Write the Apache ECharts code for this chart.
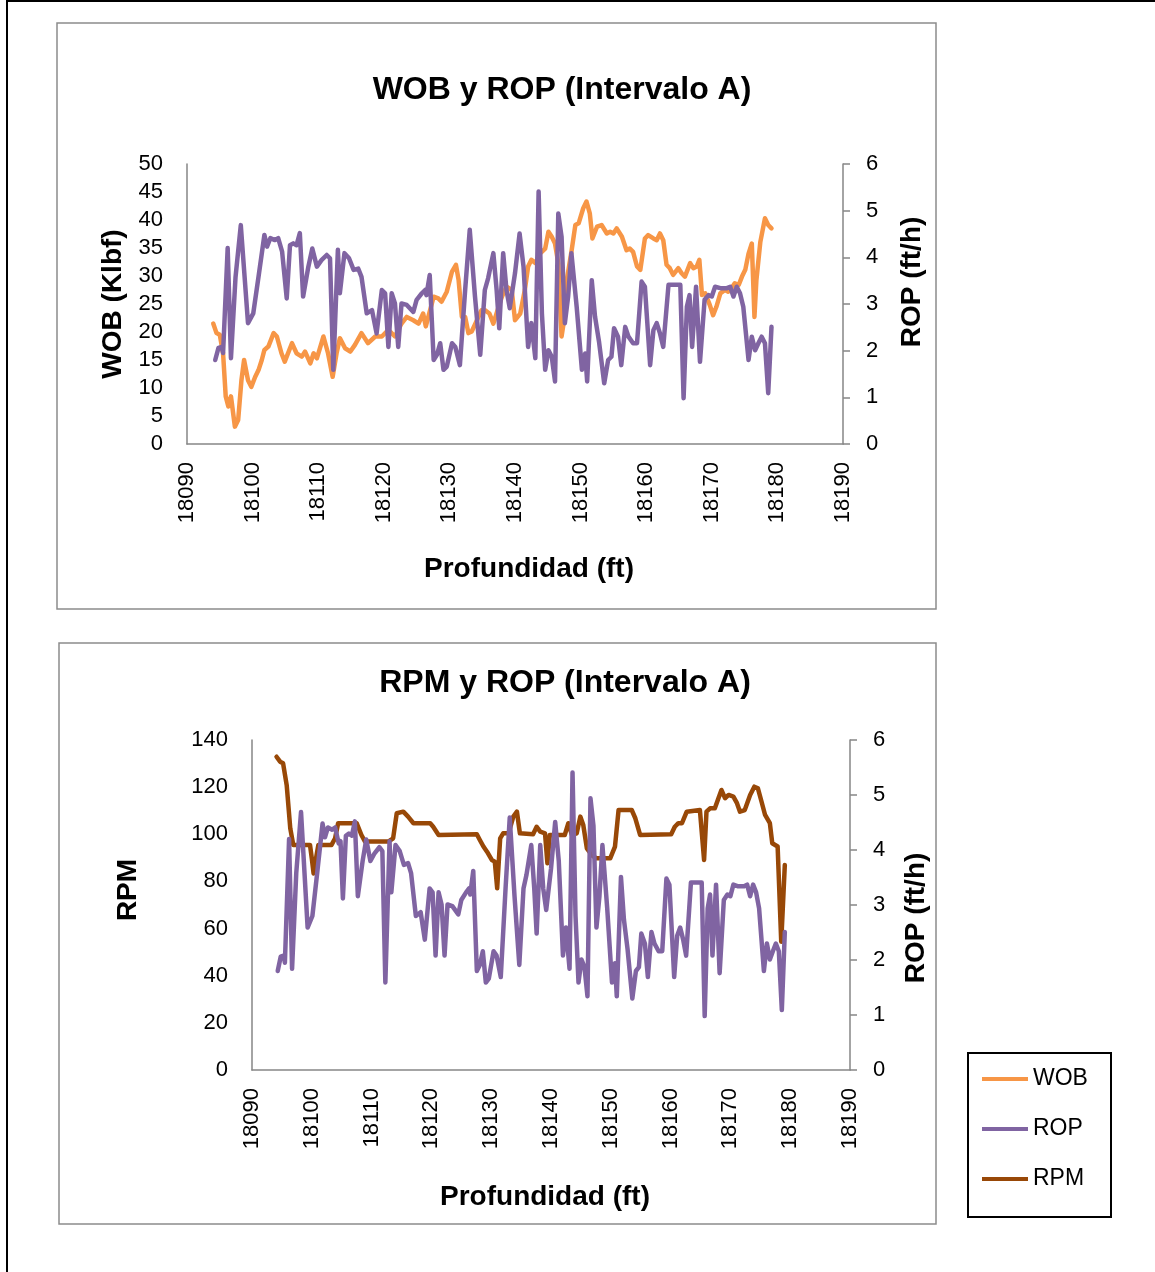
<!DOCTYPE html>
<html>
<head>
<meta charset="utf-8">
<script src="https://cdn.jsdelivr.net/npm/echarts@6/dist/echarts.min.js"></script>
<style>
  html, body { margin: 0; padding: 0; background: #ffffff; }
  #chart { width: 1155px; height: 1272px; }
</style>
</head>
<body>
<div id="chart"></div>
<script>
// Rate of penetration (ft/h) versus depth (ft) — shared by both panels
const ropDepth = [
  18094.3, 18094.8, 18095.3, 18095.5, 18096.2, 18096.7, 18097.4, 18098.2, 18099.3, 18100.1,
  18100.9, 18101.8, 18102.2, 18102.7, 18103.4, 18103.9, 18104.5, 18104.8, 18105.2, 18105.7,
  18106.2, 18106.7, 18107.2, 18107.7, 18108.5, 18109.1, 18109.8, 18110.5, 18111.3, 18111.8,
  18112.3, 18113.0, 18113.3, 18114.0, 18114.7, 18115.4, 18116.1, 18116.6, 18117.4, 18118.2,
  18118.9, 18119.7, 18120.2, 18120.7, 18121.2, 18121.7, 18122.2, 18122.7, 18123.5, 18124.5,
  18125.0, 18125.8, 18126.3, 18126.5, 18127.0, 18127.6, 18128.1, 18128.6, 18129.1, 18129.6,
  18130.4, 18130.9, 18131.6, 18132.4, 18133.1, 18133.9, 18134.7, 18135.4, 18135.9, 18136.7,
  18137.2, 18137.6, 18138.2, 18138.7, 18139.2, 18140.0, 18140.7, 18141.3, 18142.0, 18142.5,
  18143.1, 18143.6, 18144.1, 18144.6, 18145.1, 18145.6, 18146.1, 18146.6, 18147.1, 18147.6,
  18148.1, 18148.6, 18149.4, 18150.2, 18150.7, 18151.0, 18151.7, 18152.2, 18152.8, 18153.6,
  18154.2, 18154.7, 18155.1, 18155.7, 18156.2, 18156.8, 18157.3, 18158.0, 18158.6, 18159.3,
  18159.8, 18160.6, 18161.1, 18161.6, 18162.1, 18162.6, 18163.4, 18164.7, 18165.2, 18165.7,
  18166.2, 18166.6, 18167.0, 18167.6, 18168.2, 18168.9, 18169.5, 18170.0, 18170.5, 18171.3,
  18172.3, 18172.8, 18173.3, 18173.8, 18174.3, 18174.8, 18175.6, 18176.1, 18176.6, 18177.1,
  18177.6, 18178.1, 18178.6, 18179.1
];
const ropValues = [
  1.80, 2.06, 2.08, 1.95, 4.20, 1.84, 3.58, 4.69, 2.59, 2.80,
  3.58, 4.48, 4.23, 4.41, 4.37, 4.41, 4.12, 4.16, 3.12, 4.26,
  4.30, 4.26, 4.52, 3.16, 3.80, 4.19, 3.80, 3.94, 4.05, 3.98,
  1.59, 4.16, 3.23, 4.09, 3.98, 3.73, 3.76, 3.58, 2.80, 2.87,
  2.37, 3.30, 3.23, 2.08, 3.23, 3.01, 2.08, 3.01, 2.98, 2.83,
  3.09, 3.23, 3.30, 3.19, 3.62, 1.80, 1.91, 2.16, 1.59, 1.66,
  2.16, 2.08, 1.69, 3.30, 4.59, 3.16, 1.91, 3.30, 3.55, 4.09,
  3.30, 2.48, 4.09, 3.30, 2.91, 3.66, 4.51, 3.80, 2.08, 2.59,
  1.84, 5.41, 2.80, 1.59, 2.01, 1.87, 1.34, 4.94, 4.44, 2.59,
  3.16, 4.09, 2.94, 1.59, 1.94, 1.34, 3.51, 2.73, 2.20, 1.30,
  1.80, 1.87, 2.48, 2.30, 1.69, 2.51, 2.30, 2.16, 2.16, 3.48,
  3.37, 1.69, 2.44, 2.59, 2.37, 2.08, 3.41, 3.41, 3.41, 0.98,
  2.94, 3.19, 2.08, 3.37, 1.76, 3.09, 3.19, 3.16, 3.37, 3.34,
  3.34, 3.37, 3.16, 3.37, 3.23, 2.94, 1.80, 2.30, 2.01, 2.16,
  2.30, 2.16, 1.09, 2.51
];

// Weight on bit (Klbf) versus depth (ft)
const wobDepth = [
  18094.0, 18094.5, 18095.0, 18095.5, 18095.9, 18096.3, 18096.7, 18097.3, 18097.8, 18098.3,
  18098.7, 18099.3, 18099.8, 18100.4, 18100.9, 18101.4, 18101.8, 18102.4, 18103.2, 18103.7,
  18104.4, 18104.9, 18106.0, 18106.7, 18107.5, 18108.0, 18108.8, 18109.3, 18109.8, 18110.8,
  18111.5, 18112.2, 18112.8, 18113.3, 18114.1, 18114.9, 18115.6, 18116.6, 18117.6, 18118.7,
  18119.7, 18120.7, 18121.7, 18122.7, 18123.5, 18124.5, 18125.3, 18126.0, 18126.4, 18127.6,
  18128.3, 18128.8, 18129.6, 18130.4, 18131.0, 18131.4, 18131.9, 18132.4, 18132.9, 18133.4,
  18134.2, 18134.9, 18135.4, 18136.1, 18136.7, 18137.5, 18138.0, 18138.7, 18139.5, 18140.0,
  18140.8, 18141.5, 18142.0, 18142.5, 18143.1, 18143.8, 18144.6, 18145.1, 18145.6, 18146.1,
  18146.6, 18147.1, 18147.4, 18147.9, 18148.6, 18149.2, 18149.7, 18150.4, 18150.9, 18151.4,
  18151.8, 18152.5, 18153.2, 18154.0, 18154.5, 18155.0, 18155.5, 18156.3, 18157.0, 18157.5,
  18158.0, 18158.6, 18159.1, 18159.8, 18160.3, 18161.1, 18161.6, 18162.1, 18162.6, 18163.1,
  18163.6, 18164.1, 18164.9, 18165.4, 18165.9, 18166.7, 18167.2, 18167.7, 18168.1, 18168.5,
  18169.0, 18169.7, 18170.2, 18170.7, 18171.3, 18172.0, 18172.5, 18173.0, 18173.5, 18174.1,
  18174.6, 18175.1, 18175.6, 18176.1, 18176.5, 18176.8, 18177.4, 18178.1, 18178.6, 18179.1
];
const wobValues = [
  21.5, 19.8, 19.5, 16.2, 8.5, 6.7, 8.5, 3.1, 4.3, 11.4,
  15.0, 11.4, 10.2, 12.0, 13.2, 15.0, 16.8, 17.4, 19.8, 19.2,
  16.2, 14.7, 18.0, 16.2, 15.6, 16.5, 14.4, 16.2, 15.3, 19.2,
  16.2, 12.0, 16.2, 18.9, 17.1, 16.5, 17.7, 19.8, 18.0, 19.2,
  19.2, 20.4, 19.2, 21.5, 22.7, 22.1, 21.5, 23.3, 21.0, 26.3,
  26.0, 25.4, 27.2, 30.8, 32.0, 29.3, 22.7, 22.7, 19.8, 20.1,
  22.1, 23.9, 23.9, 23.3, 21.5, 24.5, 26.3, 28.1, 27.5, 22.1,
  23.3, 27.5, 31.7, 32.9, 32.3, 34.0, 34.9, 37.9, 37.0, 35.8,
  32.3, 19.2, 21.5, 29.3, 34.3, 39.1, 39.4, 42.1, 43.3, 41.2,
  36.7, 38.8, 39.1, 37.6, 37.9, 37.6, 38.5, 37.0, 34.6, 34.9,
  34.3, 31.7, 31.1, 36.7, 37.3, 36.7, 36.4, 37.6, 36.4, 32.0,
  31.4, 30.2, 31.4, 30.5, 29.9, 32.3, 31.4, 31.7, 32.9, 26.6,
  26.9, 24.8, 23.0, 24.5, 26.9, 27.5, 27.2, 27.8, 28.7, 28.4,
  29.9, 31.1, 34.0, 35.8, 22.7, 29.3, 36.1, 40.3, 39.1, 38.5
];

// Rotary speed (RPM) versus depth (ft)
const rpmDepth = [
  18094.1, 18094.7, 18095.2, 18095.8, 18096.4, 18096.9, 18098.9, 18099.7, 18100.0, 18100.3,
  18100.8, 18101.1, 18103.3, 18103.9, 18104.4, 18107.5, 18108.3, 18108.9, 18112.8, 18113.6,
  18114.2, 18115.3, 18116.1, 18117.0, 18119.8, 18120.3, 18121.2, 18127.6, 18128.1, 18128.7,
  18129.3, 18130.1, 18130.6, 18131.0, 18131.5, 18132.0, 18132.9, 18133.7, 18134.3, 18134.8,
  18137.0, 18137.6, 18138.2, 18139.0, 18139.4, 18139.8, 18142.3, 18142.9, 18143.5, 18144.3,
  18144.9, 18145.4, 18146.0, 18146.8, 18147.6, 18149.9, 18150.7, 18151.3, 18153.5, 18154.1,
  18154.9, 18160.1, 18160.7, 18161.3, 18161.9, 18162.7, 18164.9, 18165.2, 18165.6, 18166.0,
  18166.6, 18167.4, 18168.0, 18168.5, 18169.1, 18169.7, 18170.5, 18171.1, 18171.6, 18172.4,
  18173.3, 18174.0, 18174.6, 18175.2, 18175.8, 18176.6, 18177.0, 18177.9, 18178.5, 18179.1
];
const rpmValues = [
  132.9, 130.8, 130.1, 120.9, 102.5, 95.5, 95.5, 95.5, 89.8, 83.4,
  91.2, 95.5, 95.5, 98.3, 104.7, 104.7, 99.7, 96.9, 96.9, 98.3,
  108.9, 109.6, 107.5, 104.7, 104.7, 103.2, 99.7, 100.0, 97.6, 94.8,
  92.6, 89.1, 88.4, 77.1, 98.3, 100.4, 100.4, 107.5, 109.6, 100.4,
  100.0, 103.2, 101.1, 100.4, 87.7, 99.7, 99.7, 104.7, 99.7, 100.4,
  107.5, 103.9, 94.0, 91.2, 89.8, 89.8, 94.8, 110.3, 110.3, 106.8,
  99.7, 100.0, 103.2, 104.7, 104.7, 109.6, 110.3, 109.6, 89.1, 109.6,
  111.0, 111.0, 115.3, 118.8, 115.3, 116.7, 116.0, 113.2, 109.6, 110.3,
  116.7, 120.2, 119.5, 113.9, 108.2, 104.7, 96.2, 94.8, 54.4, 87.0
];

const depthMin = 18090, depthMax = 18190, depthStep = 10;

const COLORS = { WOB: '#F79646', ROP: '#8064A2', RPM: '#984807' };
const FONT = "'Liberation Sans', Arial, sans-serif";
const AXIS_GREY = '#868686';

const pairs = (xs, ys) => xs.map((x, i) => [x, ys[i]]);

function depthAxis(gridIndex, nameGap, namePadding) {
  return {
    type: 'value', gridIndex, min: depthMin, max: depthMax, interval: depthStep,
    axisLine: { show: true, lineStyle: { color: AXIS_GREY, width: 1.5 } },
    axisTick: { show: false },
    splitLine: { show: false },
    axisLabel: { rotate: 90, margin: 18, fontSize: 22, color: '#000', fontFamily: FONT,
                 formatter: v => String(v) },
    name: 'Profundidad (ft)', nameLocation: 'middle', nameGap,
    nameTextStyle: { fontSize: 28, fontWeight: 'bold', color: '#000', fontFamily: FONT, padding: namePadding }
  };
}

function valueAxis(gridIndex, position, max, interval, name, nameGap, namePadding, ticks) {
  return {
    type: 'value', gridIndex, position, min: 0, max, interval,
    axisLine: { show: true, lineStyle: { color: AXIS_GREY, width: 1.5 } },
    axisTick: { show: ticks, length: 7, lineStyle: { color: AXIS_GREY, width: 1.5 } },
    splitLine: { show: false },
    axisLabel: { margin: position === 'left' ? 24 : 23, fontSize: 22, color: '#000', fontFamily: FONT },
    name, nameLocation: 'middle', nameRotate: 90, nameGap,
    nameTextStyle: { fontSize: 28, fontWeight: 'bold', color: '#000', fontFamily: FONT, padding: namePadding }
  };
}

function lineSeries(name, xAxisIndex, yAxisIndex, data) {
  return {
    name, type: 'line', xAxisIndex, yAxisIndex, data,
    symbol: 'none', smooth: false,
    lineStyle: { color: COLORS[name], width: 4.5, cap: 'round', join: 'round' },
    itemStyle: { color: COLORS[name] },
    emphasis: { disabled: true }
  };
}

const chart = echarts.init(document.getElementById('chart'), null, { renderer: 'canvas' });

chart.setOption({
  animation: false,
  backgroundColor: '#ffffff',
  textStyle: { fontFamily: FONT },
  title: [
    { text: 'WOB y ROP (Intervalo A)', left: 557, top: 69, textAlign: 'center',
      textStyle: { fontSize: 32, fontWeight: 'bold', color: '#000', fontFamily: FONT } },
    { text: 'RPM y ROP (Intervalo A)', left: 560, top: 662, textAlign: 'center',
      textStyle: { fontSize: 32, fontWeight: 'bold', color: '#000', fontFamily: FONT } }
  ],
  grid: [
    { left: 187, top: 164, width: 656, height: 280, containLabel: false, outerBoundsMode: 'none' },
    { left: 252, top: 740, width: 598, height: 330, containLabel: false, outerBoundsMode: 'none' }
  ],
  xAxis: [
    depthAxis(0, 111, [0, 0, 0, 28]),
    depthAxis(1, 113, [0, 12, 0, 0])
  ],
  yAxis: [
    valueAxis(0, 'left', 50, 5, 'WOB (Klbf)', 56, [0, 0, 0, 0], false),
    valueAxis(0, 'right', 6, 1, 'ROP (ft/h)', 55, [0, 0, 0, 44], true),
    valueAxis(1, 'left', 140, 20, 'RPM', 110, [0, 0, 0, 30], false),
    valueAxis(1, 'right', 6, 1, 'ROP (ft/h)', 52, [0, 26, 0, 0], true)
  ],
  legend: {
    data: ['WOB', 'ROP', 'RPM'],
    orient: 'vertical', left: 977, top: 1062,
    icon: 'rect', itemWidth: 46, itemHeight: 4, itemGap: 26,
    selectedMode: false,
    textStyle: { fontSize: 23, color: '#000', fontFamily: FONT, lineHeight: 24 }
  },
  graphic: [
    { type: 'rect', z: -10, silent: true, shape: { x: 7, y: 1, width: 1170, height: 1290 },
      style: { fill: 'none', stroke: '#000', lineWidth: 2 } },
    { type: 'rect', z: -10, silent: true, shape: { x: 57, y: 23, width: 879, height: 586 },
      style: { fill: 'none', stroke: '#8c8c8c', lineWidth: 1.5 } },
    { type: 'rect', z: -10, silent: true, shape: { x: 59, y: 643, width: 877, height: 581 },
      style: { fill: 'none', stroke: '#8c8c8c', lineWidth: 1.5 } },
    { type: 'rect', z: -10, silent: true, shape: { x: 968, y: 1053, width: 143, height: 164 },
      style: { fill: 'none', stroke: '#000', lineWidth: 2 } }
  ],
  series: [
    lineSeries('WOB', 0, 0, pairs(wobDepth, wobValues)),
    lineSeries('ROP', 0, 1, pairs(ropDepth, ropValues)),
    lineSeries('RPM', 1, 2, pairs(rpmDepth, rpmValues)),
    lineSeries('ROP', 1, 3, pairs(ropDepth, ropValues))
  ]
});
</script>
</body>
</html>
